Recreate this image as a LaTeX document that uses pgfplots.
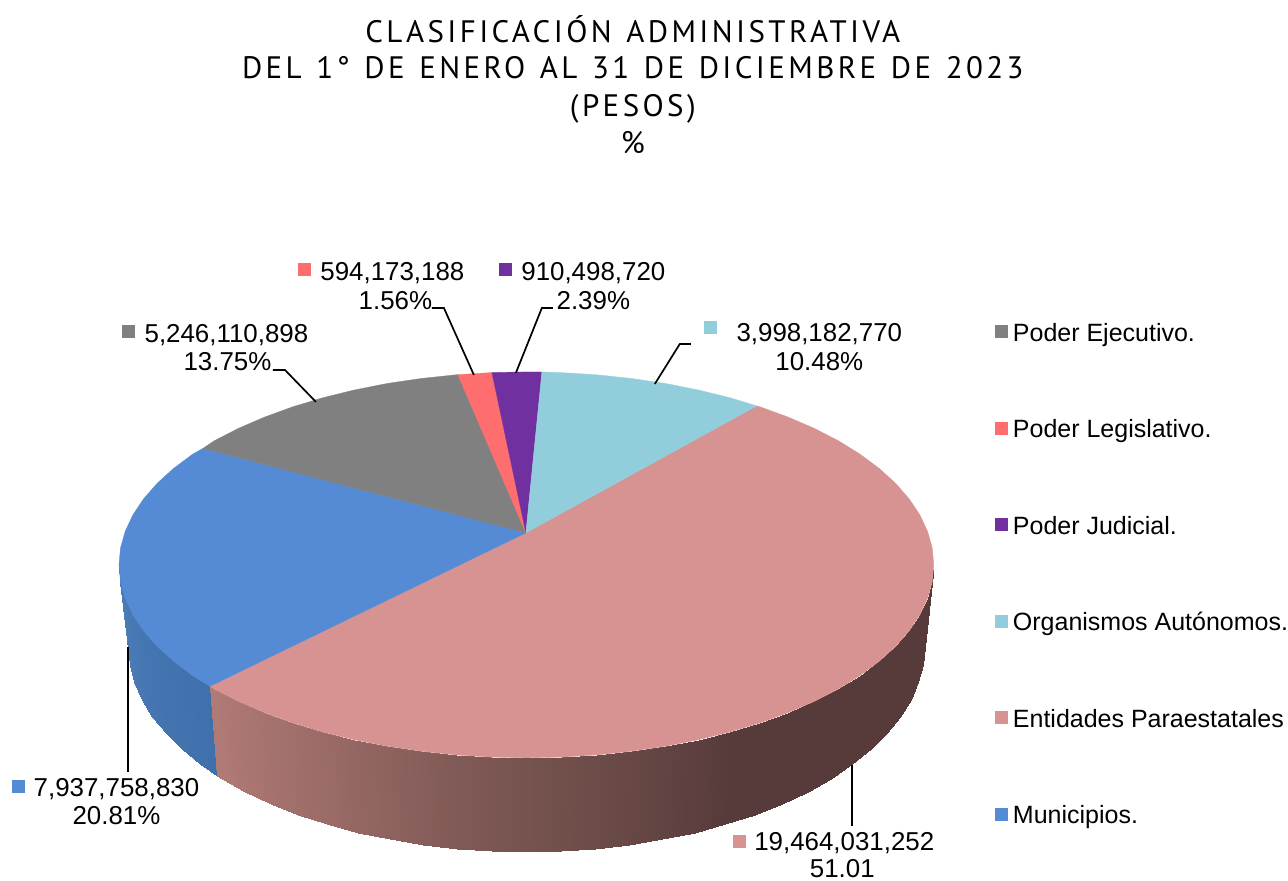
\documentclass[border=0pt]{standalone}
\usepackage{pgfplots}
\usepackage{fontspec}
\pgfplotsset{compat=1.18}
\setmainfont{Liberation Sans}
\newfontfamily\titlefont[LetterSpace=11,WordSpace=1.25]{PT Sans}
\definecolor{cgray}{RGB}{128,128,128}
\definecolor{cred}{RGB}{255,110,110}
\definecolor{cpurple}{RGB}{112,48,160}
\definecolor{ccyan}{RGB}{146,205,220}
\definecolor{cpink}{RGB}{215,146,146}
\definecolor{cblue}{RGB}{84,139,212}
\pgfplotsset{
 colormap={pinkside}{rgb255=(176,122,118) rgb255=(176,122,118) rgb255=(176,122,118) rgb255=(155,107,104) rgb255=(128,90,86) rgb255=(108,76,72) rgb255=(87,59,59) rgb255=(87,59,59) rgb255=(87,59,59) rgb255=(87,59,59)},
 colormap={blueside}{rgb255=(76,126,186) rgb255=(70,118,178) rgb255=(64,112,172) rgb255=(64,112,172) rgb255=(64,112,172) rgb255=(64,112,172) rgb255=(64,112,172) rgb255=(64,112,172) rgb255=(64,112,172) rgb255=(64,112,172)}
}
\newcommand{\lbl}[3]{\node[anchor=base,inner sep=0pt,font=\fontsize{25.9}{30}\selectfont] at (axis cs:#1,#2) {#3};}
\newcommand{\leg}[2]{\node[anchor=base west,inner sep=0pt,font=\fontsize{25}{30}\selectfont] at (axis cs:1013,#1) {#2};}
\newcommand{\ttl}[2]{\node[anchor=base,inner sep=0pt,font=\titlefont\fontsize{31}{36}\selectfont] at (axis cs:633,#1) {#2};}
\begin{document}
\begin{tikzpicture}
\begin{axis}[scale only axis,width=1288pt,height=881pt,xmin=0,xmax=1288,ymin=0,ymax=881,y dir=reverse,hide axis,clip=false,point meta min=180,point meta max=360]
\path (axis cs:0,0) rectangle (axis cs:1288,881);
% side: blue
\addplot[patch,patch type=rectangle,mesh input=lattice,shader=interp,colormap name=blueside,mesh/cols=9,point meta=\thisrow{c}] table {
x y c
119 565 180
120.5 581.8 185
125.2 598.5 190
132.9 615 195
143.6 631 200
157.2 646.6 205
173.6 661.5 210
192.7 675.7 215
209.8 686.5 219
128.5 647 180
130 664.9 185
134.5 682.6 190
142.1 700.1 195
152.5 717.1 200
165.8 733.6 205
181.8 749.5 210
200.5 764.6 215
217.2 776 219
};
% side: pink
\addplot[patch,patch type=rectangle,mesh input=lattice,shader=interp,colormap name=pinkside,mesh/cols=30,point meta=\thisrow{c}] table {
x y c
209.8 686.5 219
214.3 689.1 220
238.4 701.5 225
264.6 712.8 230
292.8 723.1 235
322.7 732.1 240
354.3 739.9 245
387.1 746.4 250
421 751.4 255
455.8 755.1 260
491 757.3 265
526.5 758 270
562 757.3 275
597.2 755.1 280
632 751.4 285
665.9 746.4 290
698.7 739.9 295
730.3 732.1 300
760.2 723.1 305
788.4 712.8 310
814.6 701.5 315
838.7 689.1 320
860.3 675.7 325
879.4 661.5 330
895.8 646.6 335
909.4 631 340
920.1 615 345
927.8 598.5 350
932.5 581.8 355
934 565 360
217.2 776 219
221.6 778.8 220
245.1 792 225
270.7 804 230
298.2 814.9 235
327.5 824.5 240
358.3 832.8 245
390.4 839.6 250
423.5 845 255
457.4 848.9 260
491.8 851.2 265
526.5 852 270
561.2 851.2 275
595.6 848.9 280
629.5 845 285
662.6 839.6 290
694.7 832.8 295
725.5 824.5 300
754.8 814.9 305
782.3 804 310
807.9 792 315
831.4 778.8 320
852.5 764.6 325
871.2 749.5 330
887.2 733.6 335
900.5 717.1 340
910.9 700.1 345
918.5 682.6 350
923 664.9 355
924.5 647 360
};
% top: pink
\addplot[fill=cpink,draw=cpink,line width=0.3pt] coordinates {(526,533)(757,406)(760.2,406.9)(788.4,417.2)(814.6,428.5)(838.7,440.9)(860.3,454.3)(879.4,468.5)(895.8,483.4)(909.4,499)(920.1,515)(927.8,531.5)(932.5,548.2)(934,565)(932.5,581.8)(927.8,598.5)(920.1,615)(909.4,631)(895.8,646.6)(879.4,661.5)(860.3,675.7)(838.7,689.1)(814.6,701.5)(788.4,712.8)(760.2,723.1)(730.3,732.1)(698.7,739.9)(665.9,746.4)(632,751.4)(597.2,755.1)(562,757.3)(526.5,758)(491,757.3)(455.8,755.1)(421,751.4)(387.1,746.4)(354.3,739.9)(322.7,732.1)(292.8,723.1)(264.6,712.8)(238.4,701.5)(214.3,689.1)(209.8,686.5)} --cycle;
% top: blue
\addplot[fill=cblue,draw=cblue,line width=0.3pt] coordinates {(526,533)(209.8,686.5)(192.7,675.7)(173.6,661.5)(157.2,646.6)(143.6,631)(132.9,615)(125.2,598.5)(120.5,581.8)(119,565)(120.5,548.2)(125.2,531.5)(132.9,515)(143.6,499)(157.2,483.4)(173.6,468.5)(192.7,454.3)(203,448.5)} --cycle;
% top: gray
\addplot[fill=cgray,draw=cgray,line width=0.3pt] coordinates {(526,533)(203,448.5)(214.3,440.9)(238.4,428.5)(264.6,417.2)(292.8,406.9)(322.7,397.9)(354.3,390.1)(387.1,383.6)(421,378.6)(455.8,374.9)(458,374.7)} --cycle;
% top: red
\addplot[fill=cred,draw=cred,line width=0.3pt] coordinates {(526,533)(458,374.7)(491,372.7)(492,372.6)} --cycle;
% top: purple
\addplot[fill=cpurple,draw=cpurple,line width=0.3pt] coordinates {(526,533)(492,372.6)(526.5,372)(542,372.1)} --cycle;
% top: cyan
\addplot[fill=ccyan,draw=ccyan,line width=0.3pt] coordinates {(526,533)(542,372.1)(562,372.7)(597.2,374.9)(632,378.6)(665.9,383.6)(698.7,390.1)(730.3,397.9)(757,406)} --cycle;
% leaders
\addplot[black,line width=1.7pt] coordinates {(273,370)(285,370)(316,402)};
\addplot[black,line width=1.7pt] coordinates {(432,308)(444,308)(474,375)};
\addplot[black,line width=1.7pt] coordinates {(553,308)(542,308)(516,373)};
\addplot[black,line width=1.7pt] coordinates {(691,344)(680,344)(655,384)};
\addplot[black,line width=1.7pt] coordinates {(128,647)(128,772)};
\addplot[black,line width=1.7pt] coordinates {(852,765)(852,826)};
% keys
\addplot[only marks,mark=square*,mark size=6pt,cgray] coordinates {(128,331)(1001,331)};
\addplot[only marks,mark=square*,mark size=6pt,cred] coordinates {(304,269)(1001,428)};
\addplot[only marks,mark=square*,mark size=6pt,cpurple] coordinates {(505,269)(1001,524)};
\addplot[only marks,mark=square*,mark size=6pt,ccyan] coordinates {(710,327)(1001,621)};
\addplot[only marks,mark=square*,mark size=6pt,cpink] coordinates {(739,841)(1001,717)};
\addplot[only marks,mark=square*,mark size=6pt,cblue] coordinates {(18,786)(1001,814)};
% data labels
\lbl{226.5}{343}{5,246,110,898}
\lbl{227.5}{371}{13.75\%}
\lbl{392.5}{281}{594,173,188}
\lbl{395.5}{310}{1.56\%}
\lbl{593.5}{281}{910,498,720}
\lbl{593.5}{310}{2.39\%}
\lbl{819.5}{342}{3,998,182,770}
\lbl{819.5}{371}{10.48\%}
\lbl{116.5}{797}{7,937,758,830}
\lbl{116.5}{825}{20.81\%}
\lbl{844.5}{851}{19,464,031,252}
\lbl{842.5}{878}{51.01}
% legend
\leg{342}{Poder Ejecutivo.}
\leg{438}{Poder Legislativo.}
\leg{535}{Poder Judicial.}
\leg{631}{Organismos Autónomos.}
\leg{728}{Entidades Paraestatales}
\leg{824}{Municipios.}
% title
\ttl{43}{CLASIFICACIÓN ADMINISTRATIVA}
\ttl{79}{DEL 1° DE ENERO AL 31 DE DICIEMBRE DE 2023}
\ttl{117}{(PESOS)}
\ttl{154}{\%}
\end{axis}
\end{tikzpicture}
\end{document}
